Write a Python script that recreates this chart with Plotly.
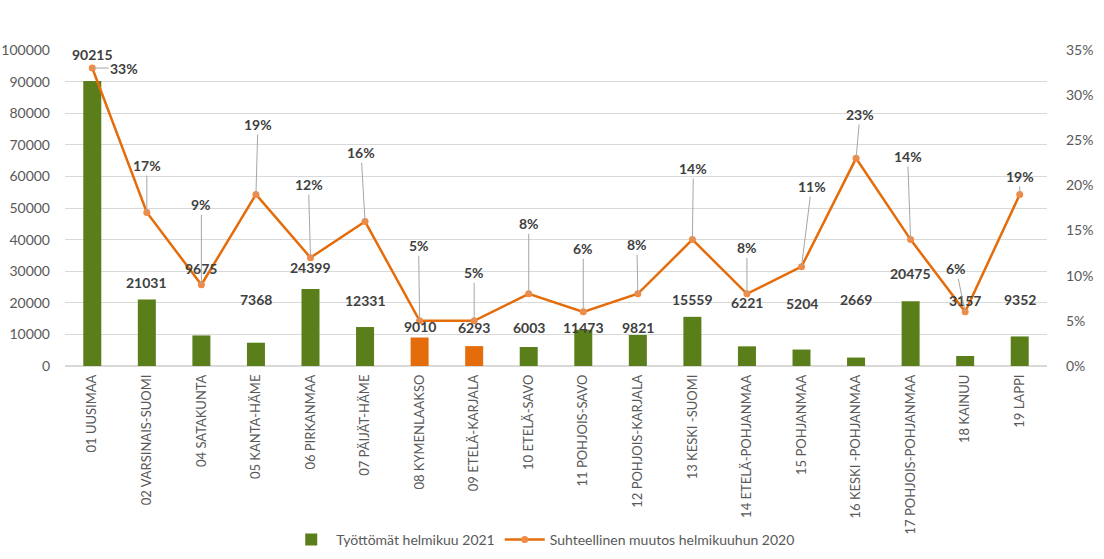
import plotly.graph_objects as go

categories = ["01 UUSIMAA", "02 VARSINAIS-SUOMI", "04 SATAKUNTA", "05 KANTA-HÄME", "06 PIRKANMAA",
              "07 PÄIJÄT-HÄME", "08 KYMENLAAKSO", "09 ETELÄ-KARJALA", "10 ETELÄ-SAVO", "11 POHJOIS-SAVO",
              "12 POHJOIS-KARJALA", "13 KESKI -SUOMI", "14 ETELÄ-POHJANMAA", "15 POHJANMAA",
              "16 KESKI -POHJANMAA", "17 POHJOIS-POHJANMAA", "18 KAINUU", "19 LAPPI"]
unemployed_feb_2021 = [90215, 21031, 9675, 7368, 24399, 12331, 9010, 6293, 6003, 11473,
                       9821, 15559, 6221, 5204, 2669, 20475, 3157, 9352]
relative_change_pct = [33, 17, 9, 19, 12, 16, 5, 5, 8, 6, 8, 14, 8, 11, 23, 14, 6, 19]

# label placement (pixel offsets, style only)
pct_offsets = [(32, 0), (0, -47), (0, -80), (2, -70), (-2, -73), (-4, -69), (-1, -75), (0, -48),
               (0, -70), (0, -63), (-1, -49), (1, -71), (0, -46), (10, -80), (4, -44), (-3, -83),
               (-9, -43), (0, -18)]
bar_label_shift = [26, 17, 67, 43, 21, 27, 11, 19, 20, 2, 7, 17, 44, 46, 58, 28, 56, 37]

GREEN = "#5A7E1A"
ORANGE = "#E46C0A"
TXT = "#404040"
AX = "#595959"
FONT = "Lato"

bar_colors = [ORANGE if c.startswith(("08", "09")) else GREEN for c in categories]

fig = go.Figure()
fig.add_trace(go.Bar(x=categories, y=unemployed_feb_2021, name="Työttömät helmikuu 2021",
                     marker=dict(color=bar_colors, line=dict(width=0)), yaxis="y"))
fig.add_trace(go.Scatter(x=categories, y=[v / 100 for v in relative_change_pct],
                         name="Suhteellinen muutos helmikuuhun 2020", mode="lines+markers",
                         line=dict(color=ORANGE, width=2.5),
                         marker=dict(color="#F08A45", size=7, line=dict(width=0)), yaxis="y2"))

annotations = []
for c, v, s in zip(categories, unemployed_feb_2021, bar_label_shift):
    annotations.append(dict(x=c, y=v, xref="x", yref="y", text=f"<b>{v}</b>", showarrow=False,
                            yanchor="middle", yshift=s, font=dict(family=FONT, size=14, color=TXT)))
for c, p, (ax, ay) in zip(categories, relative_change_pct, pct_offsets):
    annotations.append(dict(x=c, y=p / 100, xref="x", yref="y2", text=f"<b>{p}%</b>",
                            showarrow=True, arrowhead=0, arrowwidth=1, arrowcolor="#A6A6A6",
                            ax=ax, ay=ay, standoff=0,
                            font=dict(family=FONT, size=14, color=TXT)))

fig.update_layout(
    width=1104, height=559,
    margin=dict(l=65, r=57, t=50, b=193, autoexpand=False),
    paper_bgcolor="white", plot_bgcolor="white",
    bargap=0.67,
    font=dict(family=FONT, size=14, color=AX),
    xaxis=dict(tickangle=-90, tickfont=dict(family=FONT, size=13, color=AX), showgrid=False,
               showline=False, ticks="", automargin=False, range=[-0.5, len(categories) - 0.5],
               ticklabelstandoff=5),
    yaxis=dict(range=[0, 100000], dtick=10000, showgrid=True, gridcolor="#D9D9D9", gridwidth=1,
               zeroline=True, zerolinecolor="#D9D9D9", tickfont=dict(family=FONT, size=14, color=AX),
               tickformat="d", ticks="", showline=False, automargin=False, ticklabelstandoff=14),
    yaxis2=dict(range=[0, 0.35], dtick=0.05, overlaying="y", side="right", tickformat=".0%",
                showgrid=False, zeroline=False, tickfont=dict(family=FONT, size=14, color=AX),
                ticks="", automargin=False, ticklabelstandoff=18),
    legend=dict(orientation="h", x=0.487, xanchor="center", y=-0.5, yanchor="top",
                font=dict(family=FONT, size=14, color=AX), traceorder="normal", itemwidth=40),
    annotations=annotations,
    showlegend=True,
)

fig.write_html("out.html")
